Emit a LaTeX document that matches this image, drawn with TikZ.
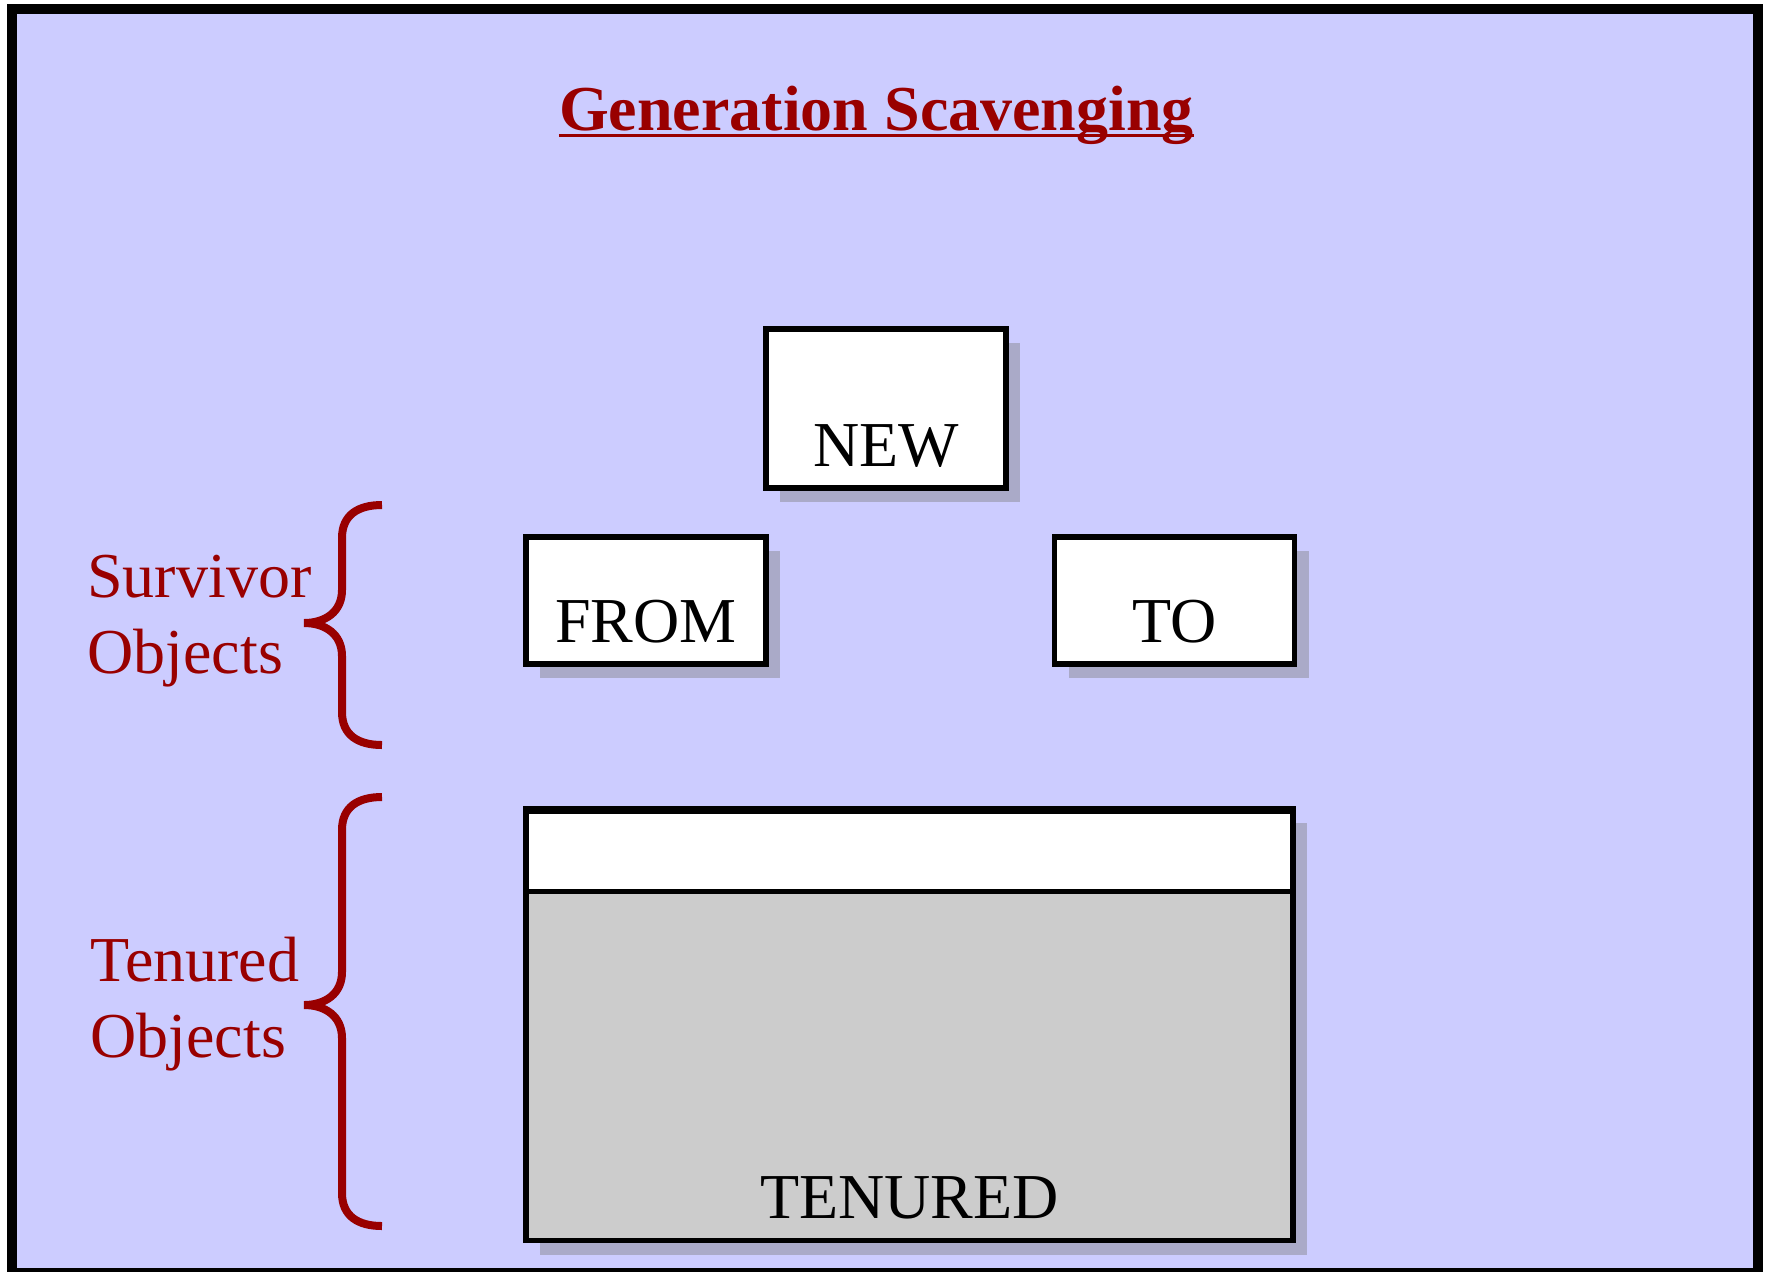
\documentclass[tikz,border=0pt]{standalone}
\usepackage{fontspec}
\setmainfont{Liberation Serif}
\usepackage{xcolor}
\usepackage{tikz}
\usetikzlibrary{shadows, positioning, calc}

\definecolor{bgblue}{HTML}{CCCCFF}
\definecolor{darkred}{HTML}{990000}
\definecolor{shadowc}{HTML}{AAAAC8}
\definecolor{tengray}{HTML}{CCCCCC}

\begin{document}
\begin{tikzpicture}[
    x=0.5pt,
    y=-0.5pt,
    memblock/.style={rectangle, draw, fill=white, line width=2.7pt,
                     inner sep=0pt, outer sep=0pt,
                     drop shadow={shadow xshift=7pt, shadow yshift=-7pt,
                                  fill=shadowc, opacity=1}},
    boxtext/.style={font=\fontsize{32pt}{38pt}\selectfont, inner sep=0pt,
                    anchor=base},
    sidetext/.style={font=\fontsize{32pt}{38pt}\selectfont, text=darkred,
                     align=left, inner sep=0pt, anchor=base west},
    titletext/.style={font=\fontsize{32pt}{38pt}\selectfont\bfseries,
                      text=darkred, inner sep=0pt, anchor=base},
    brace/.style={draw=darkred, line width=4pt},
]
\useasboundingbox (0,0) rectangle (1767,1271);
\draw[line width=5pt, fill=bgblue] (12,8.5) rectangle (1758,1273);

% title
\node[titletext] (title) at (876.5,130.5) {Generation Scavenging};
\draw[darkred, line width=1.65pt] ([yshift=-2.5pt]title.base west)
    -- ([yshift=-2.5pt]title.base east);

% spaces
\node[memblock, minimum width=120pt, minimum height=79.5pt]
    (newbox) at (886,408.5) {};
\node[memblock, minimum width=120pt, minimum height=63.5pt]
    (frombox) at (646,600.5) {};
\node[memblock, minimum width=120pt, minimum height=63.5pt]
    (tobox) at (1174.5,600.5) {};
\node[memblock, fill=tengray, minimum width=383.5pt, minimum height=215.75pt]
    (tenbox) at (909.5,1024.75) {};
\node[rectangle, draw, fill=white, line width=2.7pt, inner sep=0pt,
      minimum width=383.5pt, minimum height=40pt, anchor=north]
    (tentop) at (tenbox.north) {};

\node[boxtext] (newtxt)  at ([yshift=11pt]newbox.south)  {NEW};
\node[boxtext] (fromtxt) at ([yshift=11pt]frombox.south) {FROM};
\node[boxtext] (totxt)   at ([yshift=11pt]tobox.south)   {TO};
\node[boxtext] (tentxt)  at ([yshift=11pt]tenbox.south)  {TENURED};

% side labels (base = last line)
\node[sidetext] (survlbl) at (87,673)  {Survivor\\Objects};
\node[sidetext] (tenlbl)  at (90,1057) {Tenured\\Objects};

\draw[brace] (382,505) .. controls (358,505) and (342,515) .. (342,538)
    -- (342,590) .. controls (342,612) and (325,623) .. (304,623)
    .. controls (325,623) and (342,634) .. (342,656)
    -- (342,712) .. controls (342,735) and (358,745) .. (382,745);
\draw[brace] (382,797) .. controls (358,797) and (342,807) .. (342,830)
    -- (342,972) .. controls (342,994) and (325,1005) .. (304,1005)
    .. controls (325,1005) and (342,1016) .. (342,1038)
    -- (342,1193) .. controls (342,1216) and (358,1226) .. (382,1226);
\end{tikzpicture}
\end{document}
